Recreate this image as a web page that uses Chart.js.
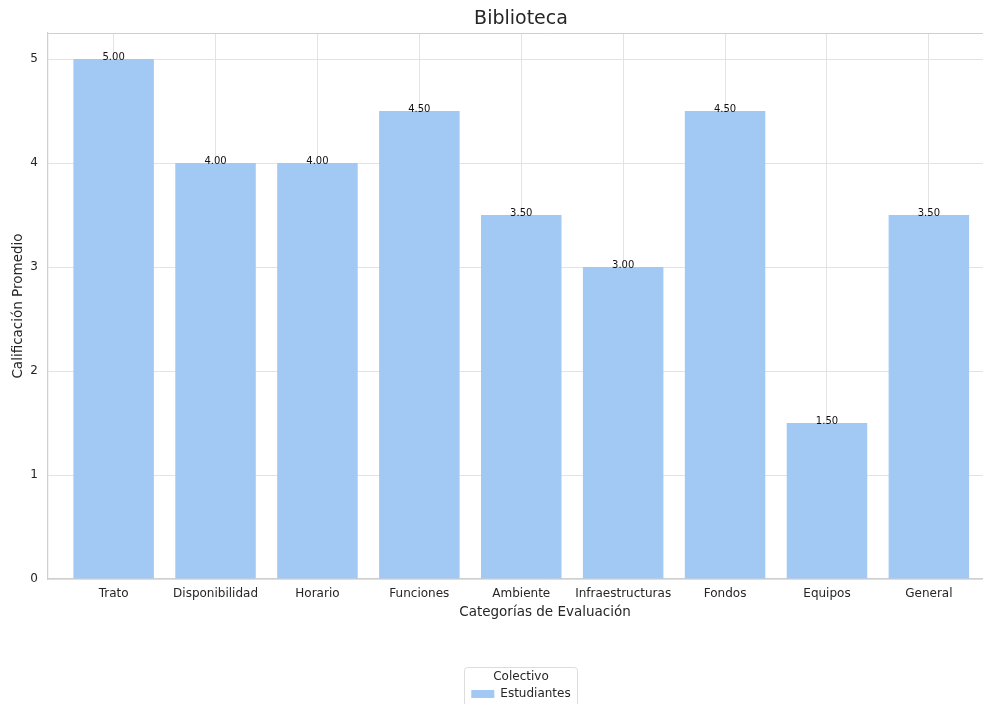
<!DOCTYPE html>
<html>
<head>
<meta charset="utf-8">
<script src="https://cdn.jsdelivr.net/npm/chart.js@4"></script>
<style>
  body { margin: 0; overflow: hidden; background: #fff; }
  canvas { display: block; }
</style>
</head>
<body>
<canvas id="chart" width="1042" height="710" style="width:1042px;height:710px"></canvas>
<script>
const categories = ['Trato', 'Disponibilidad', 'Horario', 'Funciones', 'Ambiente', 'Infraestructuras', 'Fondos', 'Equipos', 'General'];
const estudiantes = [5.0, 4.0, 4.0, 4.5, 3.5, 3.0, 4.5, 1.5, 3.5];
const yTicks = [0, 1, 2, 3, 4, 5];

const FONT = 'DejaVu Sans';
const TEXT = '#262626';
const GRID = '#e3e3e3';
const SPINE = '#cfcfcf';

// value labels above bars, matplotlib style
const barLabels = {
  id: 'barLabels',
  afterDatasetsDraw(chart) {
    const ctx = chart.ctx;
    const meta = chart.getDatasetMeta(0);
    ctx.save();
    ctx.font = '10px "' + FONT + '"';
    ctx.fillStyle = '#111';
    ctx.textAlign = 'center';
    ctx.textBaseline = 'alphabetic';
    meta.data.forEach((bar, i) => {
      ctx.fillText(estudiantes[i].toFixed(2), bar.x, bar.y + 1);
    });
    ctx.restore();
  }
};

// frame around the legend like matplotlib's legend box
const legendFrame = {
  id: 'legendFrame',
  afterDraw(chart) {
    const lg = chart.legend;
    if (!lg || !lg.legendHitBoxes || !lg.legendHitBoxes.length) return;
    const hb = lg.legendHitBoxes[0];
    const ctx = chart.ctx;
    ctx.save();
    ctx.font = '12px "' + FONT + '"';
    const titleW = ctx.measureText(lg.options.title.text).width;
    const w = Math.max(hb.width, titleW) + 14;
    const cx = hb.left + hb.width / 2;
    const x0 = Math.round(cx - w / 2) + 0.5;
    const y0 = lg.top + 1.5;
    const y1 = hb.top + hb.height + 6;
    ctx.strokeStyle = '#dcdcdc';
    ctx.lineWidth = 1;
    ctx.beginPath();
    ctx.roundRect(x0, y0, Math.round(w), y1 - y0, 3);
    ctx.stroke();
    ctx.restore();
  }
};

new Chart(document.getElementById('chart').getContext('2d'), {
  type: 'bar',
  data: {
    datasets: [{
      label: 'Estudiantes',
      data: categories.map((c, i) => ({ x: i, y: estudiantes[i] })),
      backgroundColor: '#a1c9f4',
      borderWidth: 0,
      barPercentage: 1,
      categoryPercentage: 0.79
    }]
  },
  options: {
    responsive: false,
    animation: false,
    layout: { padding: 0 },
    plugins: {
      title: {
        display: true,
        text: 'Biblioteca',
        color: TEXT,
        font: { family: FONT, size: 19, weight: 'normal' },
        padding: { top: 7.6, bottom: 2.6 }
      },
      legend: {
        position: 'bottom',
        title: {
          display: true,
          text: 'Colectivo',
          color: TEXT,
          font: { family: FONT, size: 12 },
          padding: { top: 5, bottom: 0 }
        },
        labels: {
          color: TEXT,
          font: { family: FONT, size: 12 },
          boxWidth: 23,
          boxHeight: 8,
          padding: 2.6
        }
      },
      tooltip: { enabled: false }
    },
    scales: {
      x: {
        type: 'linear',
        min: -0.644,
        max: 9.11,
        offset: false,
        ticks: {
          stepSize: 1,
          includeBounds: false,
          autoSkip: false,
          maxRotation: 0,
          padding: 8,
          color: TEXT,
          font: { family: FONT, size: 12 },
          callback: (v) => (Number.isInteger(v) && categories[v] !== undefined ? categories[v] : '')
        },
        grid: { color: GRID, drawTicks: false, lineWidth: 1, offset: false },
        border: { color: SPINE, width: 1.25 },
        title: {
          display: true,
          text: 'Categorías de Evaluación',
          color: TEXT,
          font: { family: FONT, size: 13.5 },
          padding: { top: 0, bottom: 45.9 }
        },
        afterFit: (scale) => { scale.height = 87; }
      },
      y: {
        min: 0,
        max: 5.25,
        afterBuildTicks: (scale) => {
          scale.ticks = yTicks.map(v => ({ value: v })).concat([{ value: 5.25 }]);
        },
        ticks: {
          padding: 10,
          color: TEXT,
          font: { family: FONT, size: 12 },
          callback: (v) => (yTicks.includes(v) ? String(v) : '')
        },
        grid: {
          drawTicks: false,
          lineWidth: 1,
          color: (c) => (c.tick && c.tick.value === 5.25 ? SPINE : GRID)
        },
        border: { color: SPINE, width: 1.25 },
        title: {
          display: true,
          text: 'Calificación Promedio',
          color: TEXT,
          font: { family: FONT, size: 13.5 },
          padding: { top: 10, bottom: 0 }
        },
        afterFit: (scale) => { scale.width = 48; }
      }
    }
  },
  plugins: [barLabels, legendFrame]
});
</script>
</body>
</html>
